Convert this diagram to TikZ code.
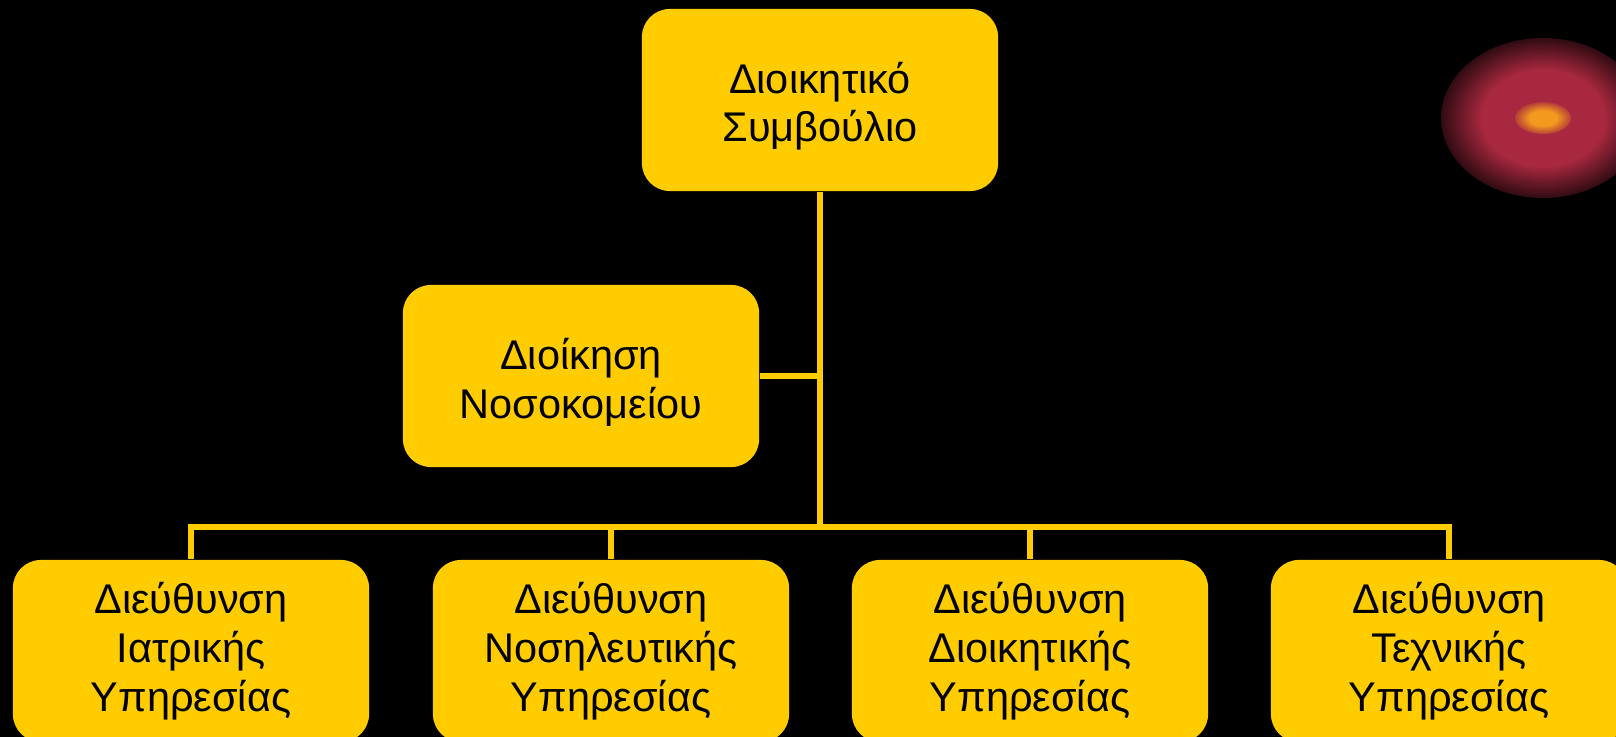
\documentclass[tikz,border=0pt]{standalone}
\usepackage{fontspec}
\setmainfont{Liberation Sans}
\definecolor{boxyellow}{HTML}{FFCC00}
\definecolor{glowred}{HTML}{A8283F}
\definecolor{glowcore}{HTML}{F39A1E}
\pgfdeclareradialshading{glow}{\pgfpoint{0bp}{0bp}}{color(0bp)=(glowred); color(15bp)=(glowred); color(29bp)=(black); color(50bp)=(black)}
\pgfdeclareradialshading{glowspot}{\pgfpoint{0bp}{0bp}}{color(0bp)=(glowcore); color(12bp)=(glowcore); color(28bp)=(glowred); color(50bp)=(glowred)}
\newcommand{\lift}{\rule{0pt}{1.05em}}

\begin{document}
\begin{tikzpicture}[x=0.01cm, y=-0.01cm,
		bx/.style={fill=boxyellow, rounded corners=0.28cm, minimum width=3.56cm,
				minimum height=1.82cm, inner sep=0pt, align=center,
				font=\fontsize{11.8}{13.9}\selectfont},
		ln/.style={draw=boxyellow, line width=0.065cm}]
	\fill[black] (0,0) rectangle (1616,737);
	\useasboundingbox (0,0) rectangle (1616,737);
	\clip (0,0) rectangle (1616,737);

	\shade[shading=glow] (1543,118) ellipse [x radius=1.02cm, y radius=0.8cm];
	\shade[shading=glowspot] (1543,118) ellipse [x radius=0.28cm, y radius=0.16cm];

	\node[bx] (board) at (820,100) {\lift Διοικητικό\\Συμβούλιο};
	\node[bx] (mgmt) at (581,376) {\lift Διοίκηση\\Νοσοκομείου};
	\coordinate (bus) at (820,527);

	\node[bx] (med) at (191,651) {Διεύθυνση\\Ιατρικής\\Υπηρεσίας};
	\node[bx] (nurse) at (611,651) {Διεύθυνση\\Νοσηλευτικής\\Υπηρεσίας};
	\node[bx] (admin) at (1030,651) {Διεύθυνση\\Διοικητικής\\Υπηρεσίας};
	\node[bx] (tech) at (1449,651) {Διεύθυνση\\Τεχνικής\\Υπηρεσίας};

	\draw[ln] (board.south) -- (bus);
	\draw[ln] (mgmt.east) -- (mgmt.east -| bus);
	\draw[ln] (med.north) |- (tech.north |- bus) -- (tech.north);
	\foreach \d in {nurse,admin}
		\draw[ln] (\d.north) -- (\d.north |- bus);
\end{tikzpicture}
\end{document}
